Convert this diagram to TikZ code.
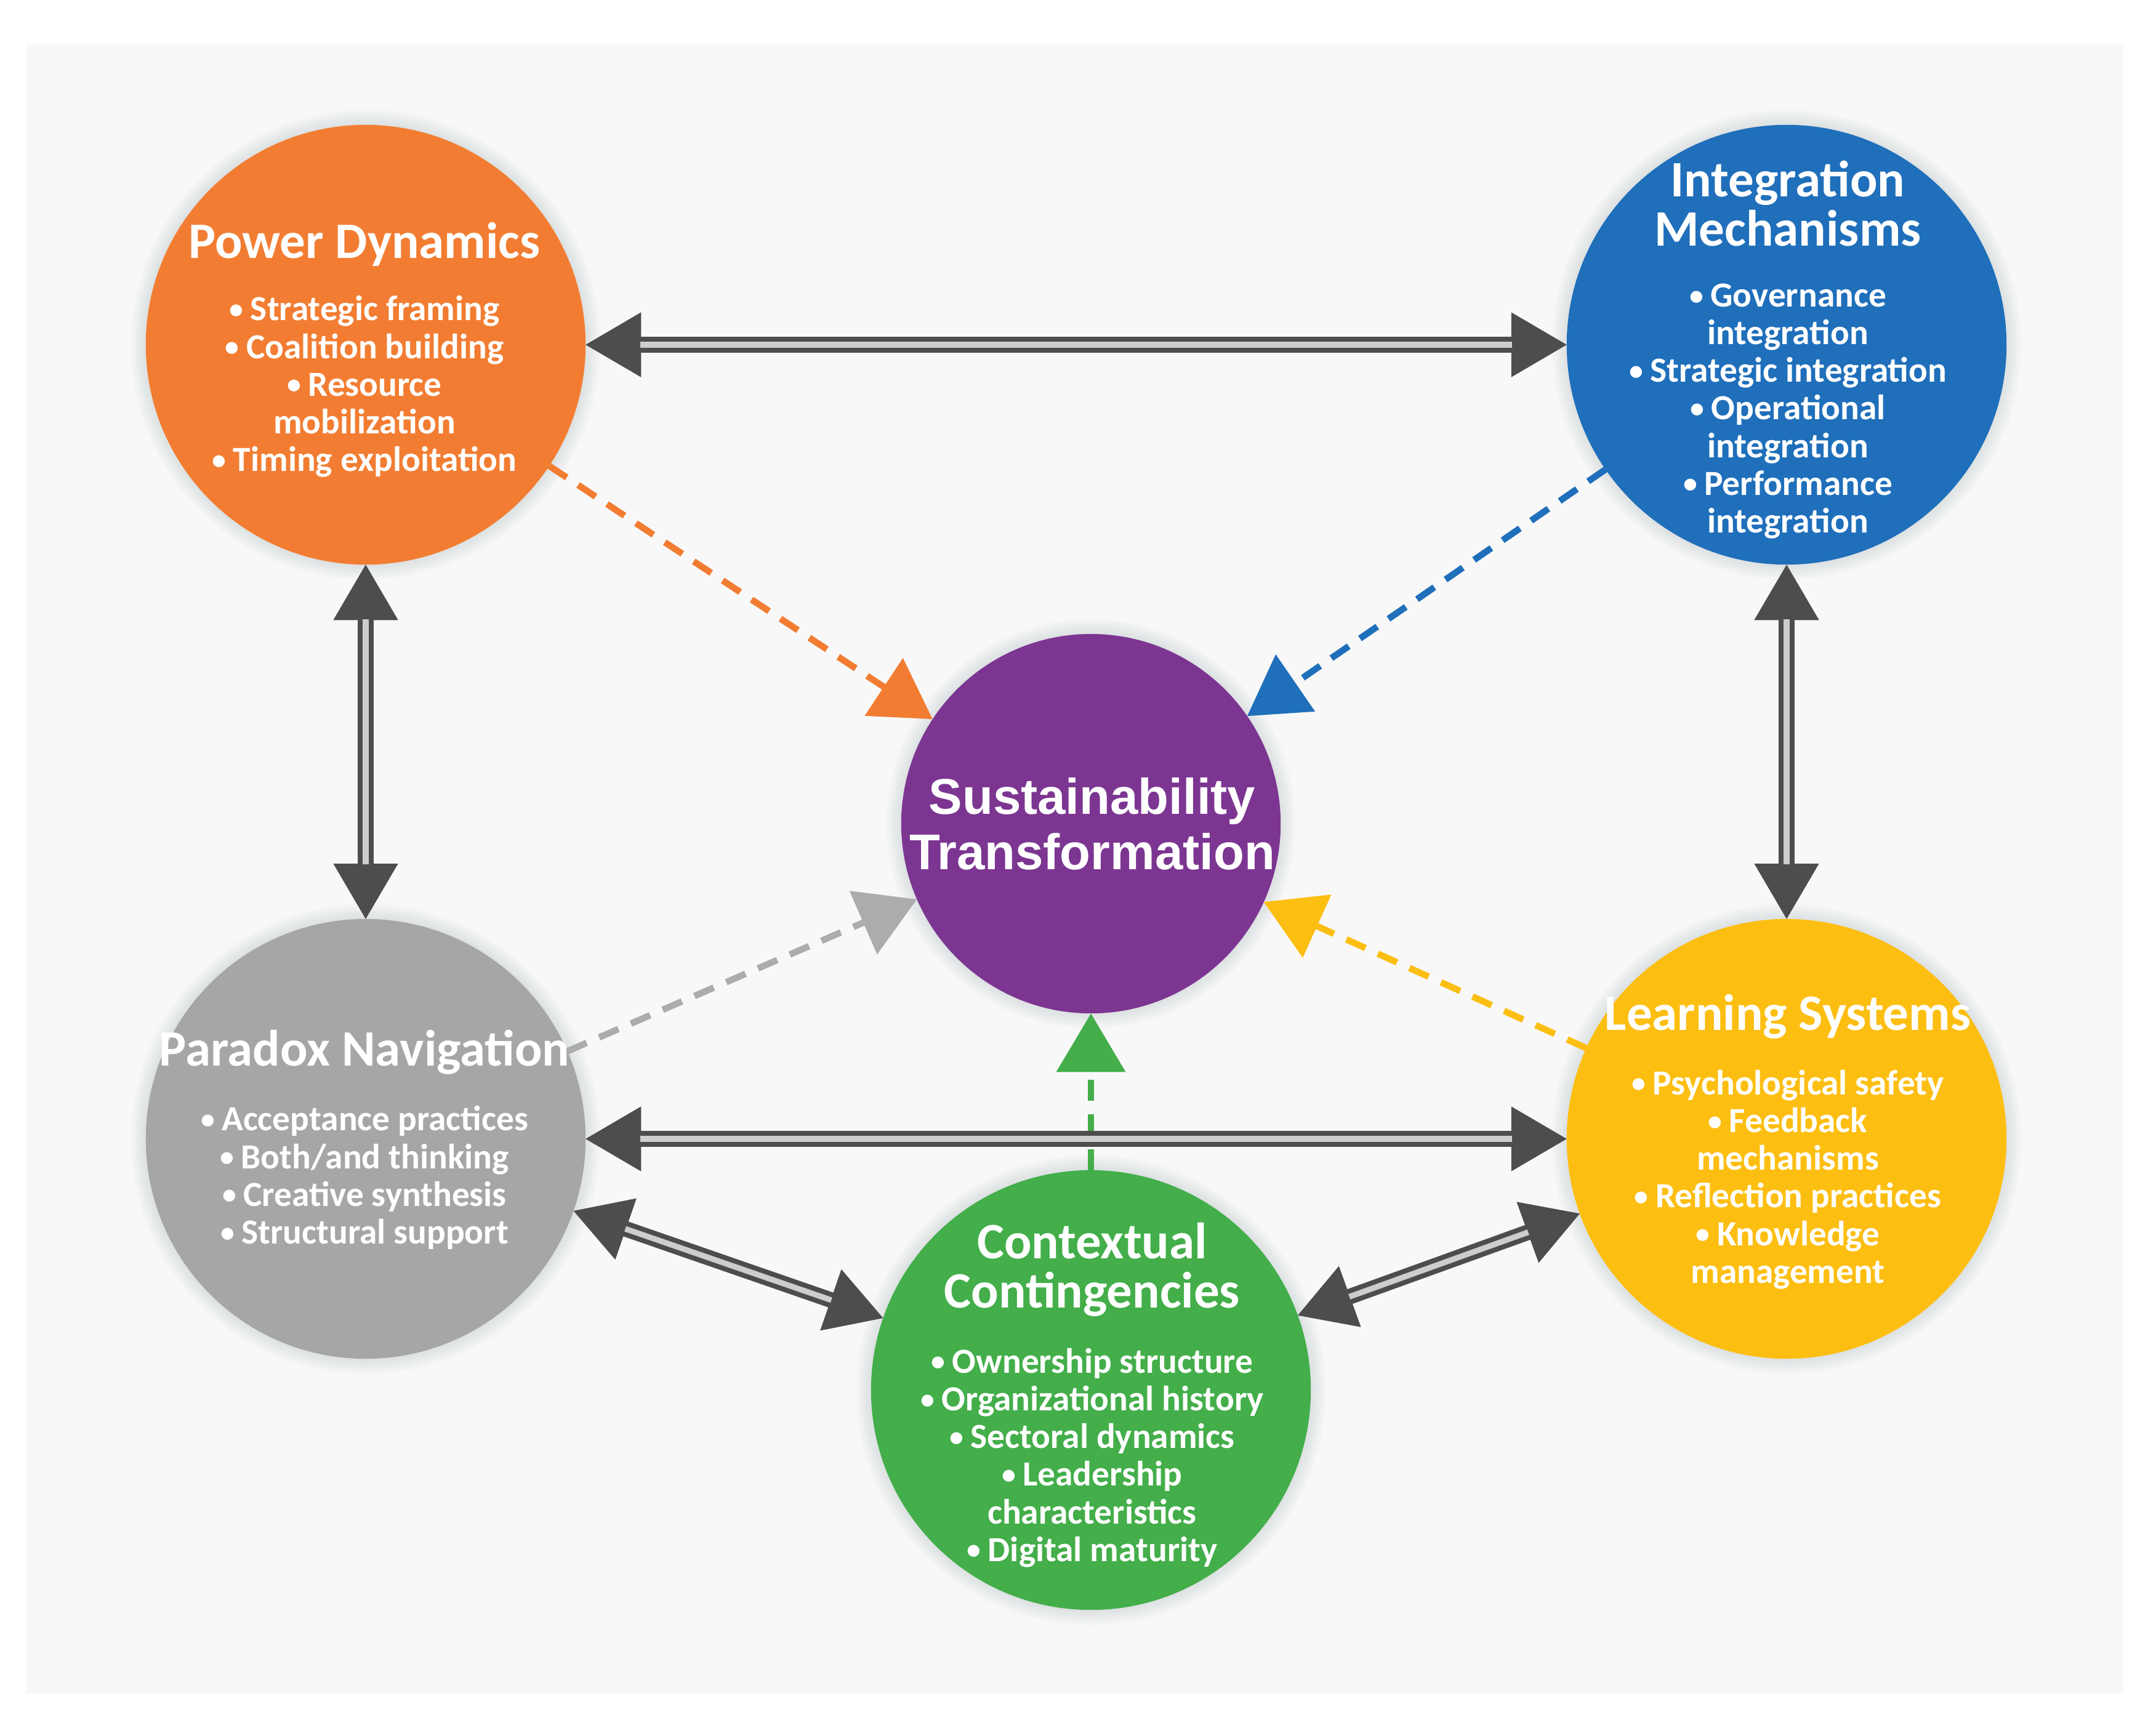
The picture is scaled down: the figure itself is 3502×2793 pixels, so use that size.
\documentclass[tikz,border=0pt]{standalone}
\usepackage{fontspec}
\setmainfont{Carlito}
\newfontfamily\stfont{Liberation Sans}
\usetikzlibrary{arrows.meta}
\definecolor{bg}{RGB}{248,248,248}
\definecolor{corange}{RGB}{242,125,50}
\definecolor{cblue}{RGB}{31,111,187}
\definecolor{cpurple}{RGB}{124,54,146}
\definecolor{cgrey}{RGB}{166,166,166}
\definecolor{cyellow}{RGB}{253,190,18}
\definecolor{cgreen}{RGB}{67,174,74}
\definecolor{adark}{RGB}{77,77,77}
\definecolor{ainner}{RGB}{205,205,205}
\definecolor{dgrey}{RGB}{172,172,172}
\definecolor{shadowc}{RGB}{120,135,150}
\newcommand\bu{\raisebox{0.12ex}{\fontsize{13}{13}\selectfont•}\hspace{0.2em}}
\begin{document}
\begin{tikzpicture}[x=0.01cm,y=-0.01cm,
  big/.style={circle, minimum size=7.14cm, inner sep=0pt, outer sep=0pt, fill=#1},
  small/.style={circle, minimum size=6.16cm, inner sep=0pt, outer sep=0pt, fill=#1},
  ttl/.style={text=white, align=center, font=\fontsize{23.6}{22.8}\selectfont\bfseries, inner sep=0pt},
  blt/.style={text=white, align=center, font=\fontsize{16.3}{17.4}\selectfont\bfseries, inner sep=0pt},
  sttl/.style={text=white, align=center, font=\stfont\bfseries\fontsize{23.2}{25.6}\selectfont, inner sep=0pt},
  tips/.style={draw=adark, fill=adark, line width=0.4pt, {Triangle[length=0.9cm,width=1.05cm]}-{Triangle[length=0.9cm,width=1.05cm]}},
  dbl/.style={draw=adark, line width=2.3pt, double=ainner, double distance=2.6pt, shorten <=0.89cm, shorten >=0.89cm},
  dsh/.style={draw=#1, line width=3pt, dash pattern=on 9.7pt off 6.3pt, -{Triangle[length=0.95cm,width=1.1cm,fill=#1]}},
  glowring/.style={fill=shadowc, opacity=0.028}
]
\useasboundingbox (0,0) rectangle (3502,2793);
\fill[white] (0,0) rectangle (3502,2793);
\fill[bg] (43,72) rectangle (3449,2751);

\coordinate (pd) at (594,560);
\coordinate (im) at (2902,560);
\coordinate (st) at (1772,1338);
\coordinate (pn) at (594,1850);
\coordinate (ls) at (2902,1850);
\coordinate (cc) at (1772,2258);

% soft shadows
\foreach \c in {pd,im,pn,ls,cc}{
  \foreach \k in {1,...,7}{
    \fill[glowring] (\c) circle[radius={357+3.5*\k}];
  }
}
\foreach \k in {1,...,7}{
  \fill[glowring] (st) circle[radius={308+3.5*\k}];
}

% circles
\node[big=corange] (PD) at (pd) {};
\node[big=cblue] (IM) at (im) {};
\node[small=cpurple] (ST) at (st) {};
\node[big=cgrey] (PN) at (pn) {};
\node[big=cyellow] (LS) at (ls) {};
\node[big=cgreen] (CC) at (cc) {};

% dashed influences towards the centre
\draw[dsh=corange] (PD) -- (ST);
\draw[dsh=cblue] (IM) -- (ST);
\draw[dsh=dgrey] (PN) -- (ST);
\draw[dsh=cyellow] (LS) -- (ST);
\draw[dsh=cgreen] (CC) -- (ST);

% double two-way arrows
\draw[tips] (PD) -- (IM);
\draw[dbl] (PD) -- (IM);
\draw[tips] (PD) -- (PN);
\draw[dbl] (PD) -- (PN);
\draw[tips] (IM) -- (LS);
\draw[dbl] (IM) -- (LS);
\draw[tips] (PN) -- (LS);
\draw[dbl] (PN) -- (LS);
\draw[tips] (PN) -- (CC);
\draw[dbl] (PN) -- (CC);
\draw[tips] (CC) -- (LS);
\draw[dbl] (CC) -- (LS);

% texts
\node[ttl] (PDt) at (592,397) {Power Dynamics};
\node[blt] (PDb) at (592,628) {\bu Strategic framing\\\bu Coalition building\\\bu Resource\\mobilization\\\bu Timing exploitation};

\node[ttl] (IMt) at (2904,331) {Integration\\Mechanisms};
\node[blt] (IMb) at (2904,668) {\bu Governance\\integration\\\bu Strategic integration\\\bu Operational\\integration\\\bu Performance\\integration};

\node[sttl] (STt) at (1774,1338) {Sustainability\\Transformation};

\node[ttl] (PNt) at (592,1709) {Paradox Navigation};
\node[blt] (PNb) at (592,1913) {\bu Acceptance practices\\\bu Both/and thinking\\\bu Creative synthesis\\\bu Structural support};

\node[ttl] (LSt) at (2904,1651) {Learning Systems};
\node[blt] (LSb) at (2904,1916) {\bu Psychological safety\\\bu Feedback\\mechanisms\\\bu Reflection practices\\\bu Knowledge\\management};

\node[ttl] (CCt) at (1774,2062) {Contextual\\Contingencies};
\node[blt] (CCb) at (1774,2368) {\bu Ownership structure\\\bu Organizational history\\\bu Sectoral dynamics\\\bu Leadership\\characteristics\\\bu Digital maturity};
\end{tikzpicture}
\end{document}
